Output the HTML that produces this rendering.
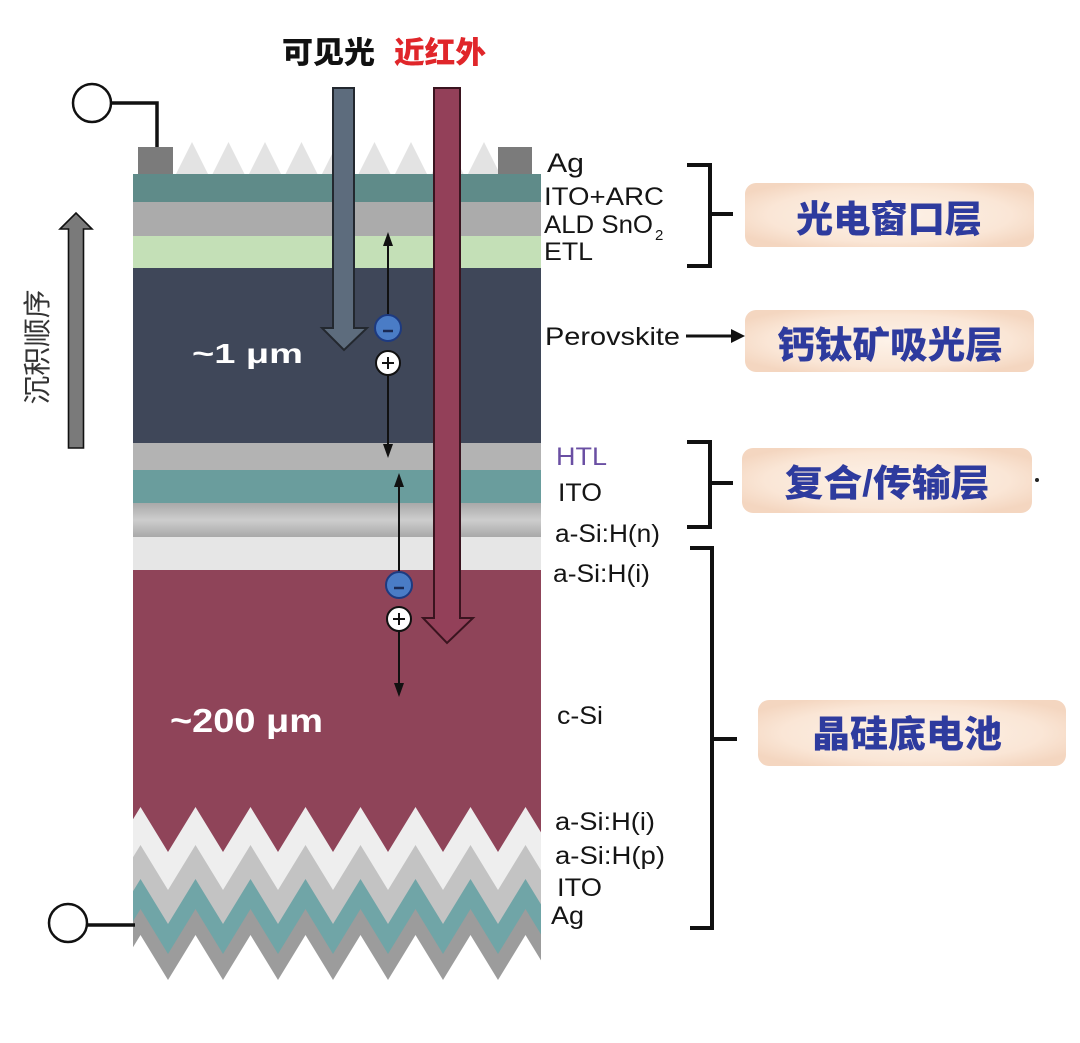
<!DOCTYPE html>
<html><head><meta charset="utf-8">
<style>
html,body{margin:0;padding:0;background:#fff;}
svg{display:block;}
.lbl{font-family:"Liberation Sans",Arial,sans-serif;font-size:25px;fill:#151515;}
.cn{font-family:"Liberation Sans","Noto Sans CJK SC",sans-serif;font-weight:900;font-size:37px;fill:#2e3b9e;}
</style></head>
<body>
<svg width="1080" height="1043" viewBox="0 0 1080 1043" xmlns="http://www.w3.org/2000/svg">
<defs>
  <radialGradient id="box" cx="50%" cy="50%" r="60%">
    <stop offset="0" stop-color="#fdf2e8"/>
    <stop offset="0.7" stop-color="#fae6d6"/>
    <stop offset="1" stop-color="#f4d6c0"/>
  </radialGradient>
  <linearGradient id="nband" x1="0" y1="0" x2="0" y2="1">
    <stop offset="0" stop-color="#a9a9a9"/>
    <stop offset="0.5" stop-color="#cdcdcd"/>
    <stop offset="1" stop-color="#a9a9a9"/>
  </linearGradient>
  <clipPath id="cell"><rect x="133" y="100" width="408" height="920"/></clipPath>
</defs>

<!-- top labels -->
<text x="282" y="63" font-family="'Liberation Sans','Noto Sans CJK SC',sans-serif" font-weight="900" font-size="30" fill="#111" textLength="93" lengthAdjust="spacingAndGlyphs">可见光</text>
<text x="394" y="63" font-family="'Liberation Sans','Noto Sans CJK SC',sans-serif" font-weight="900" font-size="30" fill="#e0262a" textLength="92" lengthAdjust="spacingAndGlyphs">近红外</text>

<!-- left vertical label and arrow -->
<text transform="translate(37,347) rotate(-90)" x="0" y="10" text-anchor="middle" font-family="'Liberation Sans','Noto Sans CJK SC',sans-serif" font-size="28" fill="#333" textLength="115" lengthAdjust="spacingAndGlyphs">沉积顺序</text>
<polygon points="68.5,448 83.5,448 83.5,229 92,229 76,213 60,229 68.5,229" fill="#7a7a7a" stroke="#111" stroke-width="1.6"/>

<!-- top-left terminal -->
<circle cx="92" cy="103" r="19" fill="#fff" stroke="#111" stroke-width="2.5"/>
<polyline points="111,103 157,103 157,148" fill="none" stroke="#111" stroke-width="3.5"/>

<!-- cell layers -->
<g clip-path="url(#cell)">
  <rect x="133" y="174" width="408" height="28" fill="#5f8b89"/>
  <rect x="133" y="202" width="408" height="34" fill="#ababab"/>
  <rect x="133" y="236" width="408" height="32" fill="#c4e0b7"/>
  <rect x="133" y="268" width="408" height="175" fill="#3f4759"/>
  <rect x="133" y="443" width="408" height="27" fill="#b3b3b3"/>
  <rect x="133" y="470" width="408" height="33" fill="#6a9d9d"/>
  <rect x="133" y="503" width="408" height="34" fill="url(#nband)"/>
  <rect x="133" y="537" width="408" height="33" fill="#e6e6e6"/>
  <rect x="133" y="570" width="408" height="440" fill="#8f4459"/>
  <polygon fill="#eeeeee" points="85.5,807 113,852 140.5,807 168,852 195.5,807 223,852 250.5,807 278,852 305.5,807 333,852 360.5,807 388,852 415.5,807 443,852 470.5,807 498,852 525.5,807 553,852 580.5,807 600,1043 80,1043"/>
  <polygon fill="#c3c3c3" points="85.5,845 113,890 140.5,845 168,890 195.5,845 223,890 250.5,845 278,890 305.5,845 333,890 360.5,845 388,890 415.5,845 443,890 470.5,845 498,890 525.5,845 553,890 580.5,845 600,1043 80,1043"/>
  <polygon fill="#70a5a7" points="85.5,879 113,924 140.5,879 168,924 195.5,879 223,924 250.5,879 278,924 305.5,879 333,924 360.5,879 388,924 415.5,879 443,924 470.5,879 498,924 525.5,879 553,924 580.5,879 600,1043 80,1043"/>
  <polygon fill="#9c9c9c" points="85.5,909 113,954 140.5,909 168,954 195.5,909 223,954 250.5,909 278,954 305.5,909 333,954 360.5,909 388,954 415.5,909 443,954 470.5,909 498,954 525.5,909 553,954 580.5,909 600,1043 80,1043"/>
  <polygon fill="#ffffff" points="85.5,935 113,980 140.5,935 168,980 195.5,935 223,980 250.5,935 278,980 305.5,935 333,980 360.5,935 388,980 415.5,935 443,980 470.5,935 498,980 525.5,935 553,980 580.5,935 600,1043 80,1043"/>
</g>

<!-- top texture triangles -->
<g fill="#e3e3e3">
  <polygon points="176,174 192,142 208,174"/>
  <polygon points="212.5,174 228.5,142 244.5,174"/>
  <polygon points="249,174 265,142 281,174"/>
  <polygon points="285.5,174 301.5,142 317.5,174"/>
  <polygon points="322,174 338,142 354,174"/>
  <polygon points="358.5,174 374.5,142 390.5,174"/>
  <polygon points="395,174 411,142 427,174"/>
  <polygon points="431.5,174 447.5,142 463.5,174"/>
  <polygon points="468,174 484,142 500,174"/>
</g>
<!-- Ag contacts -->
<rect x="138" y="147" width="35" height="27" fill="#7b7b7b"/>
<rect x="498" y="147" width="34" height="27" fill="#7b7b7b"/>

<!-- bottom-left terminal -->
<circle cx="68" cy="923" r="19" fill="#fff" stroke="#111" stroke-width="2.5"/>
<line x1="87" y1="925" x2="135" y2="925" stroke="#111" stroke-width="3.5"/>

<!-- light arrows -->
<polygon points="333,88 354,88 354,328 367,328 344,350 322,328 333,328" fill="#5d6c7d" stroke="#23282f" stroke-width="2"/>
<polygon points="434,88 460,88 460,618 473,618 447,643 423,618 434,618" fill="#934059" stroke="#3a141f" stroke-width="2"/>

<!-- charge arrows -->
<g stroke="#111" stroke-width="2" fill="#111">
  <line x1="388" y1="244" x2="388" y2="315"/>
  <polygon points="388,232 383,246 393,246" stroke="none"/>
  <line x1="388" y1="375" x2="388" y2="446"/>
  <polygon points="388,458 383,444 393,444" stroke="none"/>
  <line x1="399" y1="485" x2="399" y2="572"/>
  <polygon points="399,473 394,487 404,487" stroke="none"/>
  <line x1="399" y1="631" x2="399" y2="685"/>
  <polygon points="399,697 394,683 404,683" stroke="none"/>
</g>
<circle cx="388" cy="328" r="13" fill="#4a7cc6" stroke="#1d3a80" stroke-width="2"/>
<line x1="383" y1="331" x2="393" y2="331" stroke="#1a2a55" stroke-width="2.5"/>
<circle cx="388" cy="363" r="12" fill="#fff" stroke="#111" stroke-width="2"/>
<path d="M382 363 H394 M388 357 V369" stroke="#111" stroke-width="2"/>
<circle cx="399" cy="585" r="13" fill="#4a7cc6" stroke="#1d3a80" stroke-width="2"/>
<line x1="394" y1="588" x2="404" y2="588" stroke="#1a2a55" stroke-width="2.5"/>
<circle cx="399" cy="619" r="12" fill="#fff" stroke="#111" stroke-width="2"/>
<path d="M393 619 H405 M399 613 V625" stroke="#111" stroke-width="2"/>

<!-- thickness labels -->
<text x="192" y="363" font-family="'Liberation Sans',sans-serif" font-weight="bold" font-size="28" fill="#fff" textLength="111" lengthAdjust="spacingAndGlyphs">~1 μm</text>
<text x="170" y="732" font-family="'Liberation Sans',sans-serif" font-weight="bold" font-size="33" fill="#fff" textLength="153" lengthAdjust="spacingAndGlyphs">~200 μm</text>

<!-- right layer labels -->
<text class="lbl" x="547" y="172" style="font-size:27px" textLength="37" lengthAdjust="spacingAndGlyphs">Ag</text>
<text class="lbl" x="544" y="205" textLength="120" lengthAdjust="spacingAndGlyphs">ITO+ARC</text>
<text class="lbl" x="544" y="233" textLength="109" lengthAdjust="spacingAndGlyphs">ALD SnO</text>
<text class="lbl" x="655" y="240" style="font-size:15px">2</text>
<text class="lbl" x="544" y="260" textLength="49" lengthAdjust="spacingAndGlyphs">ETL</text>
<text class="lbl" x="545" y="345" textLength="135" lengthAdjust="spacingAndGlyphs">Perovskite</text>
<line x1="686" y1="336" x2="734" y2="336" stroke="#111" stroke-width="3"/>
<polygon points="745,336 731,329 731,343" fill="#111"/>

<text class="lbl" x="556" y="465" style="fill:#6a4fa3" textLength="51" lengthAdjust="spacingAndGlyphs">HTL</text>
<text class="lbl" x="558" y="501" textLength="44" lengthAdjust="spacingAndGlyphs">ITO</text>
<text class="lbl" x="555" y="542" textLength="105" lengthAdjust="spacingAndGlyphs">a-Si:H(n)</text>
<text class="lbl" x="553" y="582" textLength="97" lengthAdjust="spacingAndGlyphs">a-Si:H(i)</text>
<text class="lbl" x="557" y="724" textLength="46" lengthAdjust="spacingAndGlyphs">c-Si</text>
<text class="lbl" x="555" y="830" textLength="100" lengthAdjust="spacingAndGlyphs">a-Si:H(i)</text>
<text class="lbl" x="555" y="864" textLength="110" lengthAdjust="spacingAndGlyphs">a-Si:H(p)</text>
<text class="lbl" x="557" y="896" textLength="45" lengthAdjust="spacingAndGlyphs">ITO</text>
<text class="lbl" x="551" y="924" textLength="33" lengthAdjust="spacingAndGlyphs">Ag</text>

<!-- brackets -->
<g fill="none" stroke="#111" stroke-width="4">
  <polyline points="687,165 710,165 710,266 687,266"/>
  <line x1="710" y1="214" x2="733" y2="214"/>
  <polyline points="687,442 710,442 710,527 687,527"/>
  <line x1="710" y1="483" x2="733" y2="483"/>
  <polyline points="690,548 712,548 712,928 690,928"/>
  <line x1="712" y1="739" x2="737" y2="739"/>
</g>

<!-- boxes -->
<rect x="745" y="183" width="289" height="64" rx="11" fill="url(#box)"/>
<text class="cn" x="889" y="232" text-anchor="middle" textLength="186" lengthAdjust="spacingAndGlyphs">光电窗口层</text>
<rect x="745" y="310" width="289" height="62" rx="11" fill="url(#box)"/>
<text class="cn" x="890" y="358" text-anchor="middle" textLength="226" lengthAdjust="spacingAndGlyphs">钙钛矿吸光层</text>
<rect x="742" y="448" width="290" height="65" rx="11" fill="url(#box)"/>
<text class="cn" x="887" y="496" text-anchor="middle" textLength="205" lengthAdjust="spacingAndGlyphs">复合/传输层</text>
<circle cx="1037" cy="480" r="2" fill="#222"/>
<rect x="758" y="700" width="308" height="66" rx="11" fill="url(#box)"/>
<text class="cn" x="907" y="747" text-anchor="middle" textLength="190" lengthAdjust="spacingAndGlyphs">晶硅底电池</text>
</svg>
</body></html>
